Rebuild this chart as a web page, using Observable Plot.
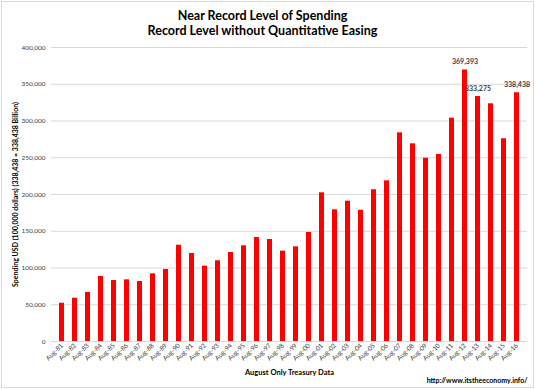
<!DOCTYPE html>
<html>
<head>
<meta charset="utf-8">
<script src="https://cdn.jsdelivr.net/npm/d3@7"></script>
<script src="https://cdn.jsdelivr.net/npm/@observablehq/plot@0.6"></script>
<style>
  html, body { margin: 0; padding: 0; background: #fff; }
  #wrap { position: relative; width: 535px; height: 389px; overflow: hidden; }
  #border { position: absolute; left: 1px; top: 1px; width: 531px; height: 385px; border: 1px solid #d9d9d9; pointer-events: none; }
  svg { display: block; }
</style>
</head>
<body>
<div id="wrap"><div id="border"></div></div>
<script>
const years = ["Aug-81","Aug-82","Aug-83","Aug-84","Aug-85","Aug-86","Aug-87","Aug-88","Aug-89","Aug-90",
  "Aug-91","Aug-92","Aug-93","Aug-94","Aug-95","Aug-96","Aug-97","Aug-98","Aug-99","Aug-00",
  "Aug-01","Aug-02","Aug-03","Aug-04","Aug-05","Aug-06","Aug-07","Aug-08","Aug-09","Aug-10",
  "Aug-11","Aug-12","Aug-13","Aug-14","Aug-15","Aug-16"];
const spending = [52100, 58900, 66700, 88400, 83000, 83900, 81600, 92100, 98000, 131000,
  119700, 102500, 109800, 121100, 130200, 141500, 138800, 122900, 128800, 148300,
  202300, 179200, 190900, 178600, 206400, 218600, 283900, 269000, 249400, 254400,
  303800, 369393, 333275, 323400, 275800, 338438];
const labeledYears = ["Aug-12", "Aug-13", "Aug-16"];
const yTicks = [0, 50000, 100000, 150000, 200000, 250000, 300000, 350000, 400000];
const titleLines = ["Near Record Level of Spending", "Record Level without Quantitative Easing"];
const yTitle = "Spending USD (100,000 dollars) (338,438 = 338,438 Billion)";
const xTitle = "August Only Treasury Data";
const source = "http://www.itstheeconomy.info/";

const data = years.map((y, i) => ({year: y, value: spending[i]}));
const labeled = data.filter(d => labeledYears.includes(d.year));
const fmt = d3.format(",");
const FONT = "Lato, 'Open Sans', sans-serif";

const chart = Plot.plot({
  width: 535,
  height: 389,
  marginLeft: 51,
  marginRight: 8,
  marginTop: 47,
  marginBottom: 48,
  style: {fontFamily: FONT, background: "transparent", overflow: "visible"},
  x: {type: "band", domain: years, paddingInner: 0.6, paddingOuter: 0.3, label: null},
  y: {domain: [0, 400000], label: null},
  marks: [
    Plot.gridY(yTicks, {stroke: "#d9d9d9", strokeOpacity: 1, strokeWidth: 1}),
    Plot.barY(data, {x: "year", y: "value", fill: "#ff0000"}),
    Plot.axisY(yTicks, {tickSize: 0, tickPadding: 6, tickFormat: fmt, fontSize: 6.5, fill: "#404040", label: null}),
    Plot.axisX({tickSize: 0, tickPadding: 3, tickRotate: -45, fontSize: 6.5, fill: "#404040", label: null}),
    Plot.text(labeled, {x: "year", y: "value", text: d => fmt(d.value), dy: -8, fontSize: 7, fontWeight: "bold", fill: "#404040"}),
    Plot.text([titleLines[0]], {frameAnchor: "top", textAnchor: "middle", lineAnchor: "middle", dx: -27, dy: -32, fontSize: 12.5, fontWeight: "bold", fill: "#000"}),
    Plot.text([titleLines[1]], {frameAnchor: "top", textAnchor: "middle", lineAnchor: "middle", dx: -27, dy: -17, fontSize: 12.5, fontWeight: "bold", fill: "#000"}),
    Plot.text([yTitle], {frameAnchor: "left", textAnchor: "middle", lineAnchor: "middle", rotate: -90, dx: -36, fontSize: 7, fontWeight: "bold", fill: "#000"}),
    Plot.text([xTitle], {frameAnchor: "bottom", textAnchor: "middle", lineAnchor: "middle", dy: 31, fontSize: 7.5, fontWeight: "bold", fill: "#000"}),
    Plot.text([source], {frameAnchor: "bottom-right", textAnchor: "end", lineAnchor: "middle", dy: 39, fontSize: 7, fontWeight: "bold", fill: "#000"})
  ]
});
document.getElementById("wrap").prepend(chart);
</script>
</body>
</html>
